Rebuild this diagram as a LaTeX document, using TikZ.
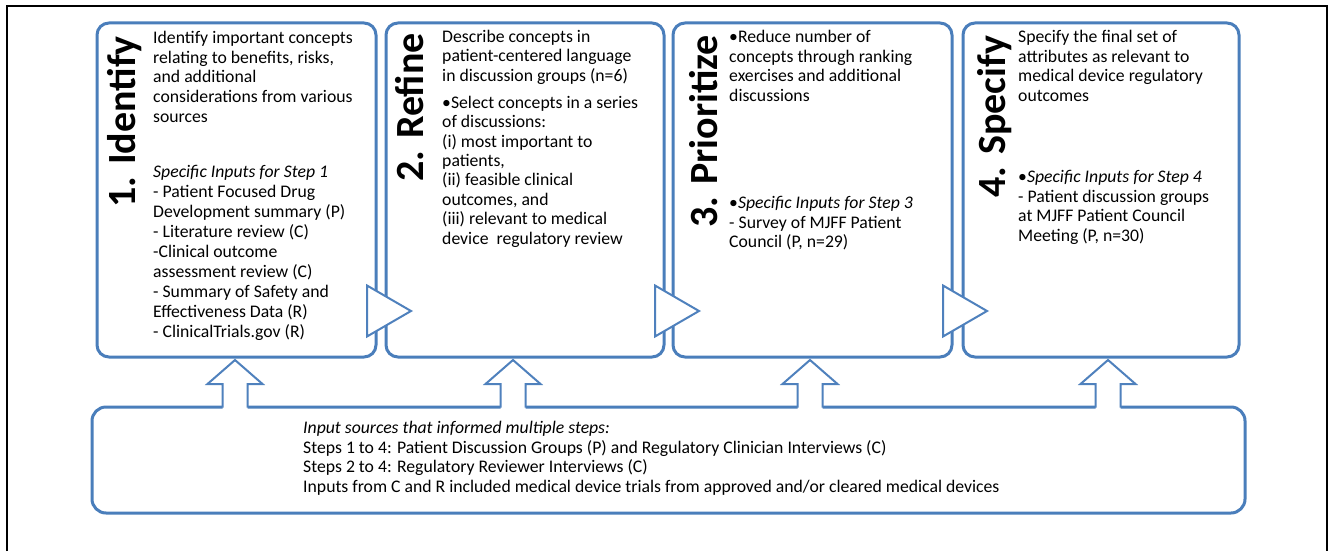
\documentclass[tikz,border=0pt]{standalone}
\usepackage{fontspec}
\setmainfont{Carlito}
\usetikzlibrary{calc}
\definecolor{boxblue}{HTML}{4A7EBB}
\definecolor{arrblue}{HTML}{4F81BD}
\newcommand{\bodyfont}{\fontsize{17.7}{19.8}\selectfont}
\newcommand{\titlefont}{\fontsize{40}{40}\selectfont\bfseries}
\newcommand{\fl}{\rule{0pt}{14pt}}
\newcommand{\uparr}[2]{%
  \coordinate (#2) at (#1,360);
  \fill[white] (#1-12.5,409.5) -- (#1-12.5,384) -- (#1-27.5,384) -- (#1,360) -- (#1+27.5,384) -- (#1+12.5,384) -- (#1+12.5,409.5) -- cycle;
  \draw[blockarrow] (#1-12.5,407.5) -- (#1-12.5,384) -- (#1-27.5,384) -- (#2) -- (#1+27.5,384) -- (#1+12.5,384) -- (#1+12.5,407.5);
}
\newcommand{\rtri}[1]{%
  \draw[blockarrow, fill=white] ($(#1.south east)+(-10.5,-73)$) -- ($(#1.south east)+(33.5,-47.5)$) -- ($(#1.south east)+(-10.5,-22)$) -- cycle;
}
\begin{document}
\begin{tikzpicture}[x=1pt,y=-1pt,
  stepbox/.style={draw=boxblue, line width=3pt, rounded corners=12pt, fill=white, inner sep=0pt},
  steptitle/.style={rotate=90, anchor=base west, inner sep=0pt, font=\titlefont},
  bodytext/.style={anchor=north west, inner sep=0pt, align=left, font=\bodyfont},
  blockarrow/.style={draw=arrblue, line width=2pt, line join=miter}
]
\useasboundingbox (0,0) rectangle (1329,551);
\fill[white] (0,0) rectangle (1329,551);
\draw[line width=2pt] (6.5,551) -- (6.5,6.5) -- (1326.5,6.5) -- (1326.5,551);

% step boxes
\node[stepbox, minimum width=279pt, minimum height=334pt] (b1) at (236.5,190) {};
\node[stepbox, minimum width=278pt, minimum height=334pt] (b2) at (525,190) {};
\node[stepbox, minimum width=279pt, minimum height=334pt] (b3) at (812.5,190) {};
\node[stepbox, minimum width=276pt, minimum height=334pt] (b4) at (1101,190) {};
% bottom box
\node[stepbox, rounded corners=14pt, minimum width=1153pt, minimum height=106pt] (inp) at (668.5,460) {};

% right-pointing block arrows
\rtri{b1}
\rtri{b2}
\rtri{b3}

% upward block arrows
\uparr{235}{u1}
\uparr{513}{u2}
\uparr{810}{u3}
\uparr{1108}{u4}

% titles
\node[steptitle] (t1) at (135,208) {1. Identify};
\node[steptitle] (t2) at (423,182) {2. Refine};
\node[steptitle] (t3) at (717,228) {3. Prioritize};
\node[steptitle] (t4) at (1005,198) {4. Specify};

% box 1
\node[bodytext] (p11) at (153,29) {\fl Identify important concepts\\relating to benefits, risks,\\and additional\\considerations from various\\sources};
\node[bodytext, font=\fontsize{17.7}{20}\selectfont] (p12) at (153,163) {\fl\textit{Specific Inputs for Step 1}\\- Patient Focused Drug\\Development summary (P)\\- Literature review (C)\\-Clinical outcome\\assessment review (C)\\- Summary of Safety and\\Effectiveness Data (R)\\- ClinicalTrials.gov (R)};
% box 2
\node[bodytext] (p21) at (442,28) {\fl Describe concepts in\\patient-centered language\\in discussion groups (n=6)};
\node[bodytext, font=\fontsize{17.7}{19.4}\selectfont] (p22) at (442,94) {\fl •Select concepts in a series\\of discussions:\\(i) most important to\\patients,\\(ii) feasible clinical\\outcomes, and\\(iii) relevant to medical\\device\ \ regulatory review};
% box 3
\node[bodytext] (p31) at (729,28) {\fl •Reduce number of\\concepts through ranking\\exercises and additional\\discussions};
\node[bodytext] (p32) at (729,194) {\fl •\textit{Specific Inputs for Step 3}\\- Survey of MJFF Patient\\Council (P, n=29)};
% box 4
\node[bodytext] (p41) at (1018,28) {\fl Specify the final set of\\attributes as relevant to\\medical device regulatory\\outcomes};
\node[bodytext] (p42) at (1018,168) {\fl •\textit{Specific Inputs for Step 4}\\- Patient discussion groups\\at MJFF Patient Council\\Meeting (P, n=30)};
% bottom
\node[bodytext] (pin) at (303,419) {\fl\textit{Input sources that informed multiple steps:}\\Steps 1 to 4: Patient Discussion Groups (P) and Regulatory Clinician Interviews (C)\\Steps 2 to 4: Regulatory Reviewer Interviews (C)\\Inputs from C and R included medical device trials from approved and/or cleared medical devices};
\end{tikzpicture}
\end{document}
